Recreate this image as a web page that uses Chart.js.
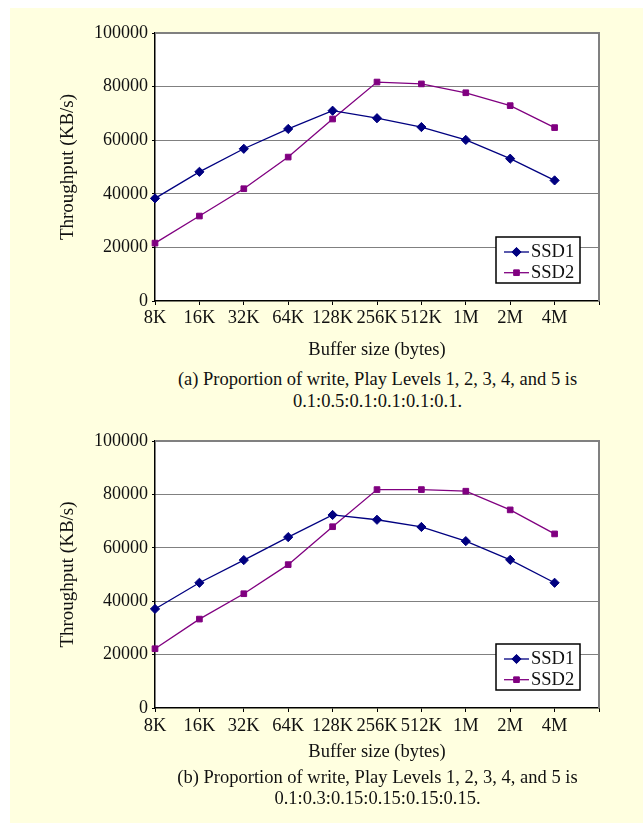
<!DOCTYPE html>
<html>
<head>
<meta charset="utf-8">
<script src="https://cdn.jsdelivr.net/npm/chart.js@4.4.1/dist/chart.umd.min.js"></script>
<style>
  html, body { margin: 0; padding: 0; background: #fff; }
  #page { position: relative; width: 643px; height: 823px; overflow: hidden; font-family: "Liberation Serif", "Times New Roman", serif; }
  #panel { position: absolute; left: 10px; top: 8px; right: 0; bottom: 0; background: #FFFFE0; }
  canvas { position: absolute; left: 0; }
  .caption { position: absolute; left: 0; width: 755px; text-align: center; font-size: 18.5px; color: #111; white-space: nowrap; }
</style>
</head>
<body>
<div id="page">
  <div id="panel"></div>
  <canvas id="chartA" width="643" height="365" style="top:0px"></canvas>
  <div class="caption" style="top:368px; line-height:22px">(a) Proportion of write, Play Levels 1, 2, 3, 4, and 5 is<br>0.1:0.5:0.1:0.1:0.1:0.1.</div>
  <canvas id="chartB" width="643" height="365" style="top:408px"></canvas>
  <div class="caption" style="top:766.5px; line-height:21.5px">(b) Proportion of write, Play Levels 1, 2, 3, 4, and 5 is<br>0.1:0.3:0.15:0.15:0.15:0.15.</div>
</div>
<script>
// data
const bufferSizes = ["8K", "16K", "32K", "64K", "128K", "256K", "512K", "1M", "2M", "4M"];
const seriesNames = ["SSD1", "SSD2"];

// (a) write 0.1:0.5:0.1:0.1:0.1:0.1
const ssd1A = [38300, 48200, 56800, 64200, 71000, 68200, 64900, 60100, 53100, 45000];
const ssd2A = [21600, 31700, 41900, 53700, 67900, 81700, 81000, 77700, 72900, 64700];

// (b) write 0.1:0.3:0.15:0.15:0.15:0.15
const ssd1B = [37100, 46900, 55400, 64000, 72300, 70500, 67800, 62500, 55500, 46900];
const ssd2B = [22200, 33300, 42800, 53700, 67900, 81800, 81800, 81200, 74200, 65200];

const yMin = 0, yMax = 100000, yStep = 20000;

const serif = '"Liberation Serif", "Times New Roman", serif';
Chart.defaults.font.family = serif;
Chart.defaults.color = "#111";

// white plot area + grey top/right frame
const plotFrame = {
    id: "plotFrame",
    beforeDraw(chart) {
        const { ctx, chartArea: a } = chart;
        ctx.save();
        ctx.fillStyle = "#fff";
        ctx.fillRect(a.left, a.top, a.right - a.left, a.bottom - a.top);
        ctx.restore();
    },
    beforeDatasetsDraw(chart) {
        const { ctx, chartArea: a } = chart;
        ctx.save();
        ctx.strokeStyle = "#808080";
        ctx.lineWidth = 2;
        ctx.beginPath();
        ctx.moveTo(a.left, a.top);
        ctx.lineTo(a.right, a.top);
        ctx.lineTo(a.right, a.bottom);
        ctx.stroke();
        ctx.restore();
    }
};

function drawMarker(ctx, ds, x, y) {
    if (Chart.helpers && Chart.helpers.drawPoint) {
        Chart.helpers.drawPoint(ctx, { pointStyle: ds.pointStyle, radius: ds.pointRadius, rotation: 0, borderWidth: 1 }, x, y);
        return;
    }
    const r = ds.pointRadius;
    ctx.beginPath();
    if (ds.pointStyle === "rectRot") {
        ctx.moveTo(x - r, y); ctx.lineTo(x, y - r); ctx.lineTo(x + r, y); ctx.lineTo(x, y + r);
        ctx.closePath();
    } else {
        const s = r * Math.SQRT1_2;
        ctx.rect(x - s, y - s, 2 * s, 2 * s);
    }
    ctx.fill();
    ctx.stroke();
}

// boxed legend in the lower right corner of the plot
const boxLegend = {
    id: "boxLegend",
    afterDraw(chart) {
        const { ctx, chartArea: a } = chart;
        const w = 84, h = 46;
        const x = a.right - 19 - w, y = a.bottom - 18 - h;
        ctx.save();
        ctx.fillStyle = "#fff";
        ctx.fillRect(x, y, w, h);
        ctx.strokeStyle = "#000";
        ctx.lineWidth = 1.5;
        ctx.strokeRect(x, y, w, h);
        chart.data.datasets.forEach((ds, i) => {
            const cy = y + 15 + i * 20.7;
            ctx.strokeStyle = ds.borderColor;
            ctx.lineWidth = ds.borderWidth;
            ctx.beginPath();
            ctx.moveTo(x + 8, cy);
            ctx.lineTo(x + 33, cy);
            ctx.stroke();
            ctx.fillStyle = ds.pointBackgroundColor;
            ctx.strokeStyle = ds.pointBorderColor;
            ctx.lineWidth = 1;
            drawMarker(ctx, ds, x + 20.5, cy);
            ctx.fillStyle = "#111";
            ctx.font = "18.5px " + serif;
            ctx.textAlign = "left";
            ctx.textBaseline = "middle";
            ctx.fillText(ds.label, x + 35, cy);
        });
        ctx.restore();
    }
};

function makeSeries(label, data, color, style, radius) {
    return {
        label,
        data,
        borderColor: color,
        backgroundColor: color,
        borderWidth: 1.3,
        pointStyle: style,
        pointRadius: radius,
        pointHoverRadius: radius,
        pointBackgroundColor: color,
        pointBorderColor: color,
        pointBorderWidth: 1,
        fill: false,
        tension: 0,
        clip: false
    };
}

// areaBottom: bottom of plot inside the canvas, tickPad / titlePad tune the text below it
function renderThroughputChart(id, ssd1, ssd2, areaBottom, tickPad, titlePad) {
    const canvas = document.getElementById(id);
    const H = canvas.height;
    return new Chart(canvas.getContext("2d"), {
        type: "line",
        data: {
            labels: bufferSizes.concat([""]),
            datasets: [
                makeSeries(seriesNames[0], ssd1, "#000080", "rectRot", 4.6),
                makeSeries(seriesNames[1], ssd2, "#800080", "rect", 4)
            ]
        },
        options: {
            responsive: false,
            animation: false,
            events: [],
            layout: { padding: { left: 0, top: 33, right: 44, bottom: 0 } },
            plugins: {
                legend: { display: false },
                tooltip: { enabled: false },
                title: { display: false }
            },
            scales: {
                x: {
                    type: "category",
                    offset: false,
                    afterFit(scale) { scale.height = H - areaBottom; },
                    grid: { display: true, drawOnChartArea: false, drawTicks: true, tickLength: 4, tickColor: "#000", tickWidth: 1 },
                    border: { display: true, color: "#000", width: 1.5 },
                    ticks: { autoSkip: false, maxRotation: 0, minRotation: 0, padding: tickPad, color: "#111", font: { size: 18.5, lineHeight: 1 } },
                    title: { display: true, text: "Buffer size (bytes)", color: "#111", font: { size: 18.5, lineHeight: 1 }, padding: { top: 0, bottom: titlePad } }
                },
                y: {
                    type: "linear",
                    min: yMin,
                    max: yMax,
                    afterFit(scale) { scale.width = 155; },
                    grid: {
                        color: c => (c.tick && c.tick.value > yMin && c.tick.value < yMax) ? "#000" : "rgba(0,0,0,0)",
                        lineWidth: 1,
                        borderDash: [1, 1],
                        drawTicks: true,
                        tickLength: 3,
                        tickColor: "#000",
                        tickWidth: 1
                    },
                    border: { display: true, color: "#000", width: 1.5, dash: [1, 1] },
                    ticks: { stepSize: yStep, padding: 4, color: "#111", font: { size: 18, lineHeight: 1 }, callback: v => String(v) },
                    title: { display: true, text: "Throughput (KB/s)", color: "#111", font: { size: 19, lineHeight: 1 }, padding: { top: 58.5, bottom: 0 } }
                }
            }
        },
        plugins: [plotFrame, boxLegend]
    });
}

renderThroughputChart("chartA", ssd1A, ssd2A, 301, 3.75, 5.75);
renderThroughputChart("chartB", ssd1B, ssd2B, 300, 4.75, 11.25);
</script>
</body>
</html>
